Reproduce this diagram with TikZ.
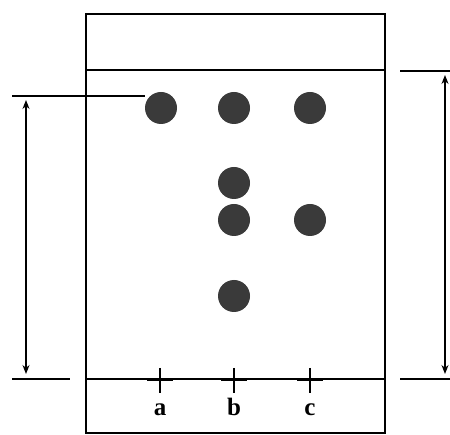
\documentclass[tikz,border=0pt]{standalone}
\usepackage{fontspec}
\usepackage{tikz}
\usetikzlibrary{arrows.meta,positioning,calc}
\newfontfamily\labelfont{Liberation Serif}
\definecolor{spot}{HTML}{3A3A3A}

\begin{document}
\begin{tikzpicture}[x=1pt,y=-1pt,
  edge/.style={line width=1.3pt,color=black},
  startmark/.style={line width=2.2pt,color=black},
  dot/.style={circle,fill=spot,inner sep=0pt,minimum size=32pt},
  dim/.style={{Stealth[length=9pt,width=7pt]}-{Stealth[length=9pt,width=7pt]},line width=1.3pt},
  lane/.style={font=\labelfont\fontsize{25}{25}\selectfont\bfseries,inner sep=0pt}]
  \useasboundingbox (0,0) rectangle (450,435);
  % plate
  \draw[edge] (86,14) rectangle (385,433);
  \coordinate (front) at (86,70);  \coordinate (frontR) at (385,70);
  \coordinate (base) at (86,379);  \coordinate (baseR) at (385,379);
  \draw[edge] (front) -- (frontR);
  \draw[edge] (base) -- (baseR);
  % start marks
  \foreach \x/\n in {160/a,234/b,310/c}{
    \coordinate (s\n) at (\x,380);
    \draw[startmark] ($(s\n)+(-13,0)$) -- ($(s\n)+(13,0)$);
    \draw[startmark] ($(s\n)+(0,-12)$) -- ($(s\n)+(0,13)$);
    \node[lane,anchor=base] (l\n) at (\x,416) {\n};
  }
  % spots
  \node[dot] (a1) at (161,108) {};
  \node[dot] (b1) at (234,108) {};
  \node[dot] (c1) at (310,108) {};
  \node[dot] (b2) at (234,183) {};
  \node[dot] (b3) at (234,220) {};
  \node[dot] (c2) at (310,220) {};
  \node[dot] (b4) at (234,296) {};
  % distances
  \coordinate (la) at (12,96);  \coordinate (lb) at (145,96);
  \coordinate (lc) at (12,379); \coordinate (ld) at (70,379);
  \coordinate (ra) at (400,71); \coordinate (rb) at (450,71);
  \coordinate (rc) at (400,379); \coordinate (rd) at (450,379);
  \draw[edge] (la) -- (lb);
  \draw[edge] (lc) -- (ld);
  \draw[edge] (ra) -- (rb);
  \draw[edge] (rc) -- (rd);
  \coordinate (lt) at (26,100); \coordinate (lu) at (26,374);
  \coordinate (rt) at (445,75); \coordinate (ru) at (445,374);
  \draw[dim] (lt) -- (lu);
  \draw[dim] (rt) -- (ru);
\end{tikzpicture}
\end{document}
